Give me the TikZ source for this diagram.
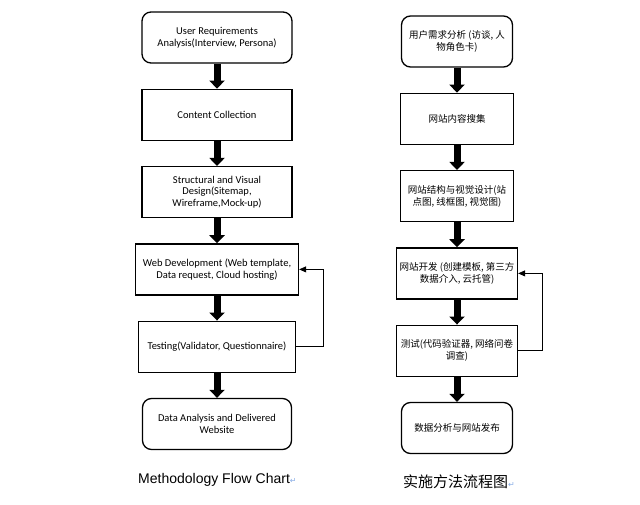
\documentclass[tikz,border=0pt]{standalone}
\usepackage{fontspec}
\setmainfont{Carlito}
\newfontfamily\cjk{Noto Sans CJK SC}
\newfontfamily\arialfont{Liberation Sans}
\newfontfamily\symbfont{DejaVu Sans}
\usetikzlibrary{positioning,arrows.meta}
\definecolor{markblue}{HTML}{8AAEE6}
\newcommand{\parmark}{{\symbfont\color{markblue}\fontsize{8}{8}\selectfont ↵}}

\begin{document}
\begin{tikzpicture}[
font=\fontsize{10.5}{11.5}\selectfont,
box/.style={draw, line width=1.3pt, align=center, minimum height=51pt, inner sep=2pt},
rbox/.style={box, rounded corners=9pt},
zh/.style={font=\cjk\fontsize{9.5}{12}\selectfont},
arrow/.style={-{Triangle[width=15pt,length=8pt]}, line width=7pt},
back/.style={-{Triangle[width=6pt,length=7pt]}, line width=0.8pt},
node distance=25pt
]
\useasboundingbox (0,0) rectangle (640pt,-505pt);

\node[rbox, minimum width=150pt] (req) at (217pt,-37.5pt) {User Requirements\\Analysis(Interview, Persona)};
\node[box, minimum width=150pt, below=of req] (content) {Content Collection};
\node[box, minimum width=150pt, below=of content] (design) {Structural and Visual\\Design(Sitemap,\\Wireframe,Mock-up)};
\node[box, minimum width=163pt, below=of design] (dev) {Web Development (Web template,\\Data request, Cloud hosting)};
\node[box, minimum width=157pt, below=of dev] (test) {Testing(Validator, Questionnaire)};
\node[rbox, minimum width=149pt, below=of test] (deliver) {Data Analysis and Delivered\\Website};

\node[rbox, zh, minimum width=111pt] (zreq) at (457pt,-41.5pt) {用户需求分析 (访谈, 人\\物角色卡)};
\node[box, zh, minimum width=113pt, below=of zreq] (zcontent) {网站内容搜集};
\node[box, zh, minimum width=113pt, below=of zcontent] (zdesign) {网站结构与视觉设计(站\\点图, 线框图, 视觉图)};
\node[box, zh, minimum width=121pt, below=of zdesign] (zdev) {网站开发 (创建模板, 第三方\\数据介入, 云托管)};
\node[box, zh, minimum width=121pt, below=of zdev] (ztest) {测试(代码验证器, 网络问卷\\调查)};
\node[rbox, zh, minimum width=111pt, below=of ztest] (zdeliver) {数据分析与网站发布};

\node[anchor=west, inner sep=0pt, font=\arialfont\fontsize{14}{16}\selectfont] (title) at (138pt,-480pt) {Methodology Flow Chart\parmark};
\node[anchor=west, inner sep=0pt, font=\cjk\fontsize{15}{17}\selectfont] (ztitle) at (403pt,-482pt) {实施方法流程图\parmark};

\draw[arrow] (req)--(content);
\draw[arrow] (content)--(design);
\draw[arrow] (design)--(dev);
\draw[arrow] (dev)--(test);
\draw[arrow] (test)--(deliver);
\draw[back] (test.east)--++(27pt,0)|-(dev.east);

\draw[arrow] (zreq)--(zcontent);
\draw[arrow] (zcontent)--(zdesign);
\draw[arrow] (zdesign)--(zdev);
\draw[arrow] (zdev)--(ztest);
\draw[arrow] (ztest)--(zdeliver);
\draw[back] (ztest.east)--++(24pt,0)|-(zdev.east);
\end{tikzpicture}
\end{document}
